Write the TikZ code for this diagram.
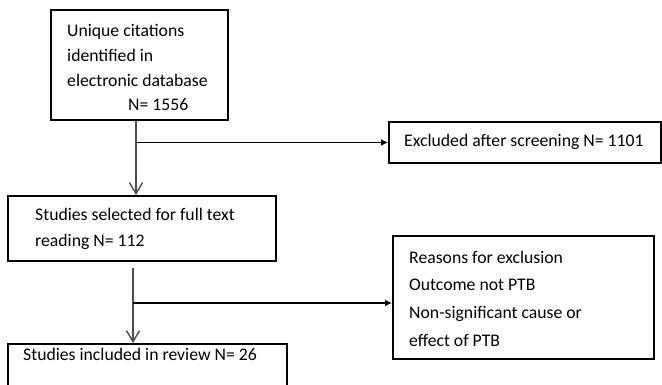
\documentclass[tikz,border=0pt]{standalone}
\usepackage{fontspec}
\setmainfont{Carlito}
\usetikzlibrary{arrows.meta}
\begin{document}
\begin{tikzpicture}[x=1pt,y=-1pt,
  box/.style={draw=black,line width=2pt,minimum width=#1,inner sep=0pt,rectangle},
  txt/.style={anchor=base west,inner sep=0pt,align=left,font=\fontsize{17.7}{24.7}\selectfont},
  vconn/.style={draw=black!70,line width=1.4pt,-{Straight Barb[length=11pt,width=13pt,line width=1.4pt]}},
  hconn/.style={draw=black,line width=1.4pt,-{Latex[length=7pt,width=7pt]}}]
\clip (0,0) rectangle (662,384);
\node[box=177pt,minimum height=110pt] (b1) at (139.5,65) {};
\node[box=268pt,minimum height=65pt] (b2) at (142,228.5) {};
\node[box=272pt,minimum height=41pt] (b3) at (525,142.5) {};
\node[box=279pt,minimum height=60pt] (b4) at (147.5,374) {};
\node[box=261pt,minimum height=123pt] (b5) at (523.5,297.5) {};
\node[txt] (t1) at (67,110.7) {Unique citations\\identified in\\electronic database\\\hspace*{61pt}N= 1556};
\node[txt,font=\fontsize{17.7}{26}\selectfont] (t2) at (35,246.7) {Studies selected for full text\\reading N= 112};
\node[txt] (t3) at (404,146.7) {Excluded after screening N= 1101};
\node[txt] (t4) at (23,360) {Studies included in review N= 26};
\node[txt,font=\fontsize{17.7}{27.6}\selectfont] (t5) at (409,346) {Reasons for exclusion\\Outcome not PTB\\Non-significant cause or\\effect of PTB};
\coordinate (j1) at (136,142.5);
\coordinate (s2) at (133,268);
\coordinate (j2) at (133,303);
\draw[vconn] (b1.south -| j1) -- (b2.north -| j1);
\draw[hconn] (j1) -- (j1 -| b3.west);
\draw[vconn] (s2) -- (b4.north -| s2);
\draw[hconn] (j2) -- (j2 -| b5.west);
\end{tikzpicture}
\end{document}
